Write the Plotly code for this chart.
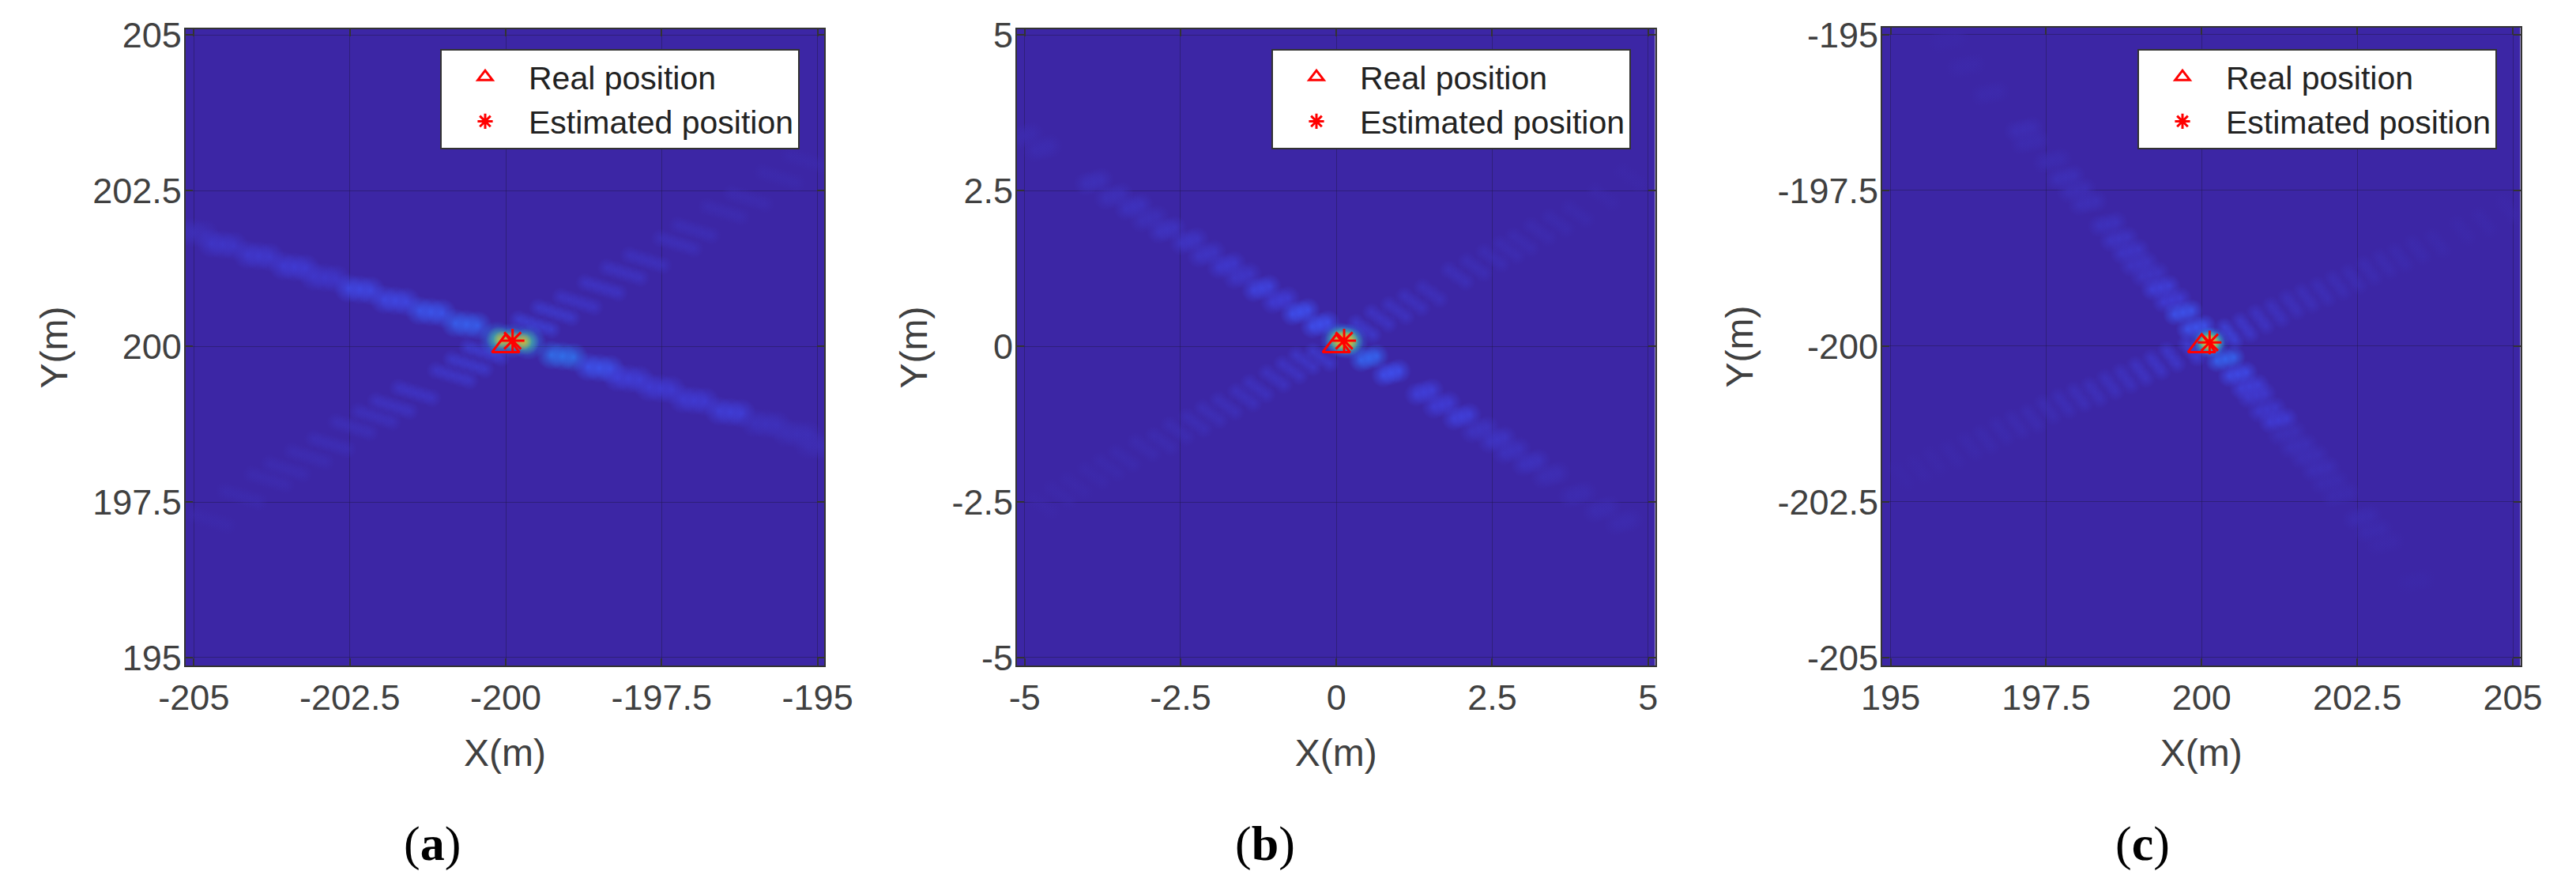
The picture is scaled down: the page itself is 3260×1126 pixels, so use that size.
import math
import plotly.graph_objects as go
from plotly.colors import sample_colorscale

# ---------- values ----------
panel_labels = ["a", "b", "c"]
x_tick_labels_a = ["-205", "-202.5", "-200", "-197.5", "-195"]
y_tick_labels_a = ["195", "197.5", "200", "202.5", "205"]
x_tick_labels_b = ["-5", "-2.5", "0", "2.5", "5"]
y_tick_labels_b = ["-5", "-2.5", "0", "2.5", "5"]
x_tick_labels_c = ["195", "197.5", "200", "202.5", "205"]
y_tick_labels_c = ["-205", "-202.5", "-200", "-197.5", "-195"]

real_x = [-200, 0, 200]
real_y = [200, 0, -200]
est_x = [-199.89, 0.125, 200.127]
est_y = [200.09, 0.09, -199.94]

# bright lobes along the strong ridge, panel (a)
a_main_x = [-205.01, -204.54, -203.96, -203.39, -202.90, -202.34, -201.77, -201.20, -200.63,
            -199.09, -198.50, -198.03, -197.52, -196.98, -196.40, -195.83, -195.33, -194.97]
a_main_y = [201.82, 201.63, 201.45, 201.27, 201.10, 200.91, 200.73, 200.55, 200.35,
            199.84, 199.65, 199.48, 199.32, 199.13, 198.94, 198.75, 198.59, 198.40]
a_main_v = [.10, .16, .18, .20, .17, .27, .27, .33, .37, .42, .32, .22, .20, .20, .22, .12, .10, .08]
# lobes along the crossing ridge, panel (a)
a_cross_x = [-199.53, -199.21, -198.85, -198.46, -198.11, -197.75, -197.25, -196.97, -196.50, -196.11, -195.61, -195.19,
             -200.34, -200.60, -200.85, -201.45, -201.81, -202.09, -202.45, -202.81, -203.16, -203.52, -203.80, -204.23, -204.73]
a_cross_y = [200.35, 200.54, 200.71, 200.94, 201.18, 201.38, 201.65, 201.86, 202.16, 202.37, 202.71, 202.98,
             199.90, 199.71, 199.53, 199.25, 199.04, 198.87, 198.70, 198.43, 198.23, 198.03, 197.86, 197.59, 197.21]
a_cross_v = [.28, .24, .20, .20, .18, .16, .14, .12, .09, .08, .06, .05,
             .26, .24, .22, .20, .18, .15, .13, .12, .10, .09, .08, .07, .05]

# panel (b)
b_main_x = [-5.0, -4.71, -3.89, -3.57, -3.25, -3.0, -2.72, -2.36, -2.08, -1.76, -1.51, -1.2, -.9, -.58, -.26,
            .52, .88, 1.41, 1.69, 2.01, 2.30, 2.58, 2.81, 3.12, 3.44, 3.87, 4.26, 4.61]
b_main_y = [3.38, 3.18, 2.64, 2.41, 2.24, 2.05, 1.87, 1.69, 1.48, 1.30, 1.13, .93, .74, .55, .35,
            -.19, -.43, -.74, -.94, -1.13, -1.34, -1.5, -1.68, -1.87, -2.07, -2.38, -2.62, -2.82]
b_main_v = [.05, .06, .10, .10, .12, .10, .13, .14, .14, .17, .15, .24, .20, .30, .30,
            .38, .30, .22, .20, .22, .13, .14, .12, .12, .08, .06, .06, .05]
b_cross_x = [.45, .70, .98, 1.23, 1.52, 1.94, 2.23, 2.51, 2.76, 2.98, 3.26, 3.55, 3.87, 4.29, 4.72,
             -.24, -.51, -.73, -.98, -1.26, -1.47, -1.76, -2.01, -2.26, -2.54, -2.79, -3.08, -3.40, -3.65, -3.89, -4.18, -4.43, -4.71]
b_cross_y = [.28, .45, .57, .71, .85, 1.13, 1.27, 1.42, 1.55, 1.67, 1.84, 1.98, 2.13, 2.40, 2.71,
             -.18, -.24, -.38, -.52, -.68, -.82, -.96, -1.09, -1.23, -1.36, -1.53, -1.63, -1.80, -1.94, -2.07, -2.24, -2.38, -2.55]
b_cross_v = [.24, .20, .18, .17, .15, .14, .12, .11, .10, .09, .08, .07, .06, .04, .03,
             .24, .22, .20, .18, .17, .16, .14, .13, .12, .10, .09, .08, .07, .06, .05, .04, .04, .03]

# panel (c)
c_main_x = [195.93, 196.21, 196.60, 197.14, 197.24, 197.6, 197.81, 197.99, 198.17, 198.49, 198.67, 198.85, 198.99, 199.17,
            199.34, 199.52, 199.70, 199.91, 200.38, 200.58, 200.77, 200.88, 201.05, 201.23, 201.37, 201.55, 201.73, 201.91,
            202.05, 202.23, 202.58, 202.76, 202.94, 203.44]
c_main_y = [-195.09, -195.5, -195.94, -196.52, -196.72, -197.02, -197.29, -197.5, -197.7, -198.04, -198.28, -198.48, -198.68, -198.85,
            -199.06, -199.26, -199.46, -199.70, -200.21, -200.45, -200.65, -200.79, -201.02, -201.19, -201.40, -201.6, -201.77, -201.97,
            -202.18, -202.38, -202.75, -202.96, -203.16, -203.77]
c_main_v = [.02, .03, .04, .08, .06, .06, .10, .09, .10, .12, .14, .15, .14, .14,
            .22, .20, .32, .32, .38, .28, .22, .18, .17, .20, .10, .10, .09, .09,
            .06, .05, .06, .05, .03, .02]
c_cross_x = [200.45, 200.70, 200.95, 201.20, 201.45, 201.69, 201.94, 202.19, 202.44, 202.69, 202.94, 203.19, 203.47, 203.79, 204.19, 204.54, 204.93,
             199.84, 199.52, 199.27, 199.02, 198.78, 198.53, 198.28, 198.03, 197.78, 197.53, 197.28, 197.03, 196.78, 196.53, 196.28, 195.99, 195.71, 195.46, 195.18]
c_cross_y = [-199.80, -199.70, -199.57, -199.46, -199.33, -199.23, -199.13, -199.02, -198.92, -198.79, -198.68, -198.58, -198.45, -198.35, -198.14, -198.01, -197.80,
             -200.07, -200.18, -200.30, -200.41, -200.52, -200.62, -200.74, -200.82, -200.92, -201.02, -201.16, -201.26, -201.36, -201.50, -201.60, -201.74, -201.84, -201.97, -202.07]
c_cross_v = [.30, .22, .18, .16, .14, .13, .12, .11, .10, .09, .08, .07, .06, .05, .04, .04, .03,
             .26, .22, .20, .18, .16, .15, .14, .13, .12, .10, .09, .08, .07, .06, .05, .04, .03, .03, .02]

# ---------- styles ----------
W, H = 3260, 1126
PAGE_INSET = 8  # the page body margin in front of the figure
PX_PER_UNIT = 78.8
BG = "rgb(60,38,165)"
TEXT = "#404040"
FRAME = "#333333"
SANS = "Liberation Sans, Arial, sans-serif"
SERIF = "Liberation Serif, Times New Roman, serif"
COLORMAP = [[0, "rgb(60,38,165)"], [.1, "rgb(62,48,185)"], [.2, "rgb(64,60,215)"], [.3, "rgb(62,80,240)"],
            [.4, "rgb(50,110,245)"], [.55, "rgb(30,170,215)"], [.7, "rgb(90,205,110)"],
            [.85, "rgb(235,200,50)"], [1, "rgb(250,150,40)"]]

frames_x = [(234.8, 1043), (1287, 2094.5), (2382, 3189.5)]
frames_y = [(37, 842), (37, 842), (35, 842)]
x_ranges = [(-205.134, -194.894), (-5.123, 5.112), (194.865, 205.12)]
y_ranges = [(194.873, 205.09), (-5.127, 5.09), (-205.127, -194.887)]
x_tick_sets = [x_tick_labels_a, x_tick_labels_b, x_tick_labels_c]
y_tick_sets = [y_tick_labels_a, y_tick_labels_b, y_tick_labels_c]
legend_left = [557, 1609, 2705]
label_x = [547, 1601, 2711]
# (size px, copies, spacing px, angle deg, alpha)
ridges = [
    [(a_main_x, a_main_y, a_main_v, 38, 3, 14, -6, .8), (a_cross_x, a_cross_y, a_cross_v, 25, 5, 11, -17, .5)],
    [(b_main_x, b_main_y, b_main_v, 32, 3, 10, 15, .8), (b_cross_x, b_cross_y, b_cross_v, 25, 3, 13, -35, .55)],
    [(c_main_x, c_main_y, c_main_v, 30, 3, 11, 12, .8), (c_cross_x, c_cross_y, c_cross_v, 25, 3, 11, -52, .55)],
]
# (value, size px, copies, spacing px, angle deg) of the central peak
peak_layers = [
    [(.45, 46, 3, 20, -5), (.68, 34, 3, 17, -5), (.92, 23, 3, 13, -5)],
    [(.45, 46, 3, 8, -8), (.68, 36, 3, 7, -8), (.92, 25, 3, 6, -8)],
    [(.45, 40, 3, 5, 0), (.68, 31, 3, 4, 0), (.92, 21, 3, 3, 0)],
]


def rgba(v, a):
    c = sample_colorscale(COLORMAP, [min(max(v, 0), 1)], colortype="rgb")[0]
    return c.replace("rgb(", "rgba(").replace(")", f",{a})")


def lobes(xs, ys, vs, size, copies, spacing, angle, alpha, xa, ya):
    px, py, edge, core = [], [], [], []
    dx = math.cos(math.radians(angle)) * spacing / PX_PER_UNIT
    dy = math.sin(math.radians(angle)) * spacing / PX_PER_UNIT
    for x, y, v in zip(xs, ys, vs):
        for k in range(copies):
            o = k - (copies - 1) / 2
            px.append(x + o * dx)
            py.append(y + o * dy)
            edge.append(rgba(v, 0))
            core.append(rgba(v, alpha))
    return go.Scatter(x=px, y=py, mode="markers", xaxis=xa, yaxis=ya, showlegend=False, hoverinfo="skip",
                      marker=dict(size=size, color=edge, line=dict(width=0),
                                  gradient=dict(type="radial", color=core)))


def fx(p):
    return (p - PAGE_INSET) / W


def fy(p):
    return 1 - (p - PAGE_INSET) / H


fig = go.Figure()
layout = {}
annotations = []
for i in range(3):
    s = "" if i == 0 else str(i + 1)
    xa, ya = f"x{s}", f"y{s}"
    for r in ridges[i]:
        fig.add_trace(lobes(*r, xa, ya))
    for v, size, copies, spacing, angle in peak_layers[i]:
        fig.add_trace(lobes([est_x[i]], [est_y[i]], [v], size, copies, spacing, angle, .85, xa, ya))
    legend_name = "legend" + s
    fig.add_trace(go.Scatter(x=[real_x[i]], y=[real_y[i]], mode="markers", name="Real position", xaxis=xa, yaxis=ya,
                             legend=legend_name,
                             marker=dict(symbol="triangle-up-open", size=30, color="#ff0000", line=dict(width=3, color="#ff0000"))))
    fig.add_trace(go.Scatter(x=[est_x[i]], y=[est_y[i]], mode="markers", name="Estimated position", xaxis=xa, yaxis=ya,
                             legend=legend_name,
                             marker=dict(symbol="asterisk-open", size=25, color="#ff0000", line=dict(width=3, color="#ff0000"))))
    common = dict(showgrid=True, gridcolor="rgba(30,25,70,0.45)", gridwidth=1, zeroline=False, automargin=False,
                  showline=True, linecolor=FRAME, linewidth=2, mirror="ticks", ticks="inside", ticklen=9,
                  tickcolor=FRAME, tickwidth=2, tickmode="array", tickangle=0,
                  tickfont=dict(family=SANS, size=45, color=TEXT))
    layout["xaxis" + s] = dict(common, domain=[fx(frames_x[i][0]), fx(frames_x[i][1])], range=list(x_ranges[i]),
                               anchor=ya, tickvals=[float(t) for t in x_tick_sets[i]], ticktext=x_tick_sets[i],
                               title=dict(text="X(m)", font=dict(family=SANS, size=48, color=TEXT), standoff=28))
    layout["yaxis" + s] = dict(common, domain=[fy(frames_y[i][1]), fy(frames_y[i][0])], range=list(y_ranges[i]),
                               anchor=xa, tickvals=[float(t) for t in y_tick_sets[i]], ticktext=y_tick_sets[i],
                               ticklabelstandoff=-6,
                               title=dict(text="Y(m)", font=dict(family=SANS, size=48, color=TEXT), standoff=16))
    layout[legend_name] = dict(x=fx(legend_left[i]), y=fy(62), xanchor="left", yanchor="top",
                               bgcolor="white", bordercolor=FRAME, borderwidth=2, itemwidth=100,
                               entrywidth=340, entrywidthmode="pixels",
                               font=dict(family=SANS, size=41, color="#222222"), tracegroupgap=0)
    annotations.append(dict(x=fx(label_x[i]), y=fy(1067), xref="paper", yref="paper", showarrow=False,
                            xanchor="center", yanchor="middle",
                            text=f"(<b>{panel_labels[i]}</b>)", font=dict(family=SERIF, size=62, color="black")))

fig.update_layout(width=W, height=H, autosize=False, margin=dict(l=0, r=0, t=0, b=0, pad=0),
                  paper_bgcolor="white", plot_bgcolor=BG, annotations=annotations, **layout)
fig.write_html("out.html")
